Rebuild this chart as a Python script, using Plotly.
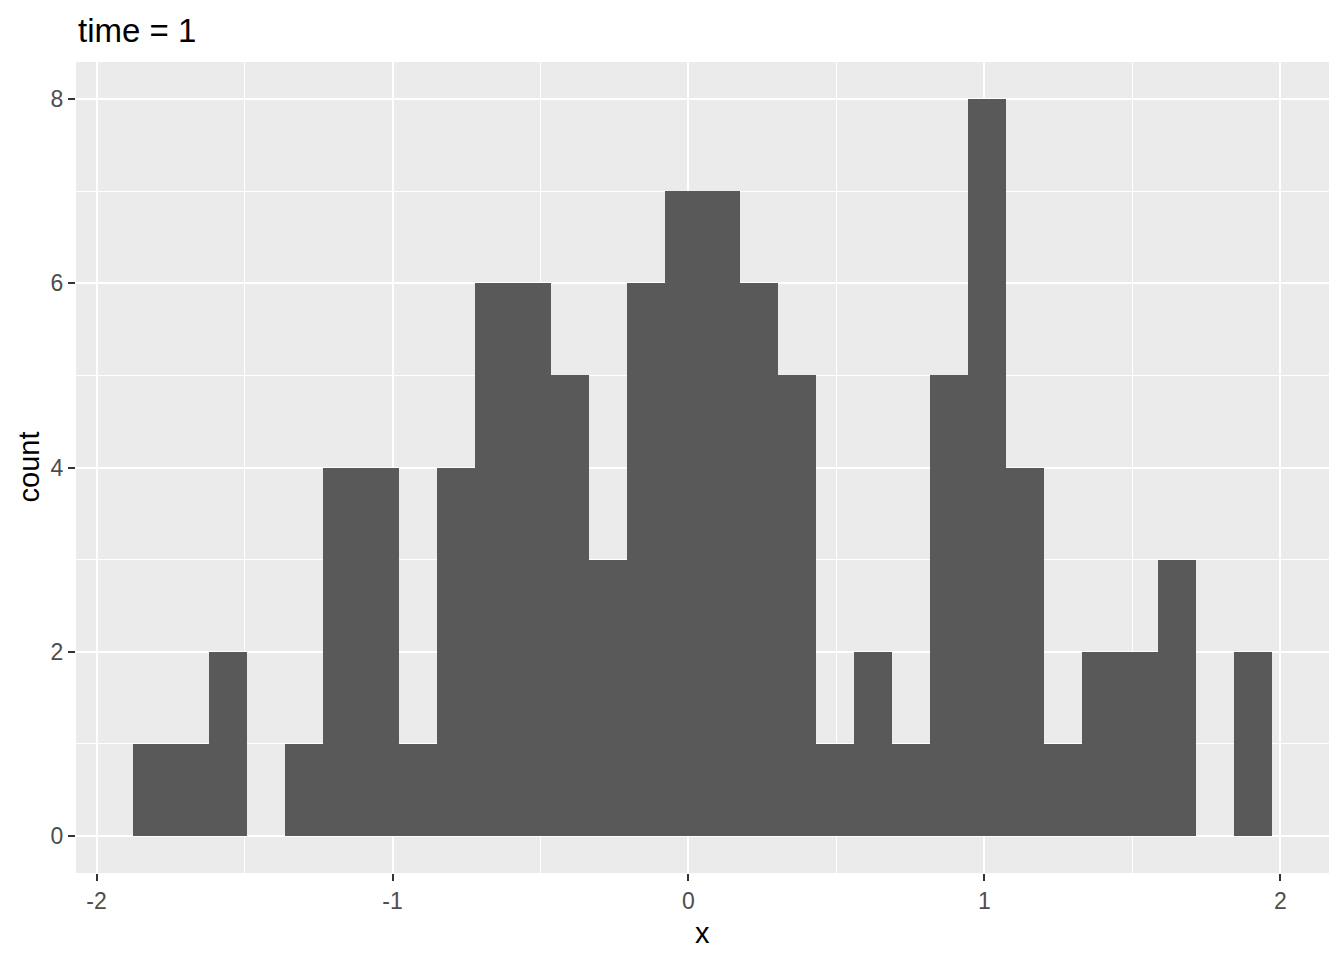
import plotly.graph_objects as go

# Histogram data (30 bins)
bin_start = -1.877
bin_width = 0.1283
counts = [1, 1, 2, 0, 1, 4, 4, 1, 4, 6, 6, 5, 3, 6, 7, 7, 6, 5, 1, 2, 1, 5, 8, 4, 1, 2, 2, 3, 0, 2]
x_ticks = [-2, -1, 0, 1, 2]
x_minor = [-1.5, -0.5, 0.5, 1.5]
y_ticks = [0, 2, 4, 6, 8]
y_minor = [1, 3, 5, 7]
title_text = "time = 1"
x_title = "x"
y_title = "count"

centers = [bin_start + bin_width * (i + 0.5) for i in range(len(counts))]
x_lo = bin_start
x_hi = bin_start + bin_width * len(counts)
span = x_hi - x_lo
x_range = [x_lo - 0.05 * span, x_hi + 0.05 * span]
y_range = [-0.05 * max(counts), max(counts) * 1.05]

fig = go.Figure(go.Bar(
    x=centers, y=counts, width=bin_width,
    marker=dict(color="#595959", line=dict(width=0)),
    hoverinfo="x+y",
))

font = "Arial, Liberation Sans, sans-serif"
# page body adds an 8px offset; figure sized to fit the 1344x960 window
fig.update_layout(
    width=1336, height=952,
    margin=dict(l=68, r=15, t=54, b=87, autoexpand=False),
    paper_bgcolor="white", plot_bgcolor="#EBEBEB",
    bargap=0, showlegend=False,
    font=dict(family=font, color="black"),
    annotations=[
        dict(text=title_text, xref="paper", yref="paper", x=0, y=1,
             xanchor="left", yanchor="middle", yshift=32, showarrow=False,
             font=dict(size=33, color="black", family=font)),
        dict(text=x_title, xref="paper", yref="paper", x=0.5, y=0,
             xanchor="center", yanchor="middle", yshift=-60, showarrow=False,
             font=dict(size=29, color="black", family=font)),
        dict(text=y_title, xref="paper", yref="paper", x=0, y=0.5, textangle=-90,
             xanchor="center", yanchor="middle", xshift=-48, showarrow=False,
             font=dict(size=29, color="black", family=font)),
    ],
)
fig.update_xaxes(
    range=x_range, tickvals=x_ticks, ticktext=[str(v) for v in x_ticks],
    showgrid=True, gridcolor="white", gridwidth=2, zeroline=False,
    ticks="outside", ticklen=7, tickwidth=2, tickcolor="#333333",
    tickfont=dict(size=23, color="#4D4D4D", family=font),
    minor=dict(tickvals=x_minor, showgrid=True, gridcolor="white", gridwidth=1, ticks=""),
    showline=False, automargin=False,
)
fig.update_yaxes(
    range=y_range, tickvals=y_ticks, ticktext=[str(v) for v in y_ticks],
    showgrid=True, gridcolor="white", gridwidth=2, zeroline=False,
    ticks="outside", ticklen=7, tickwidth=2, tickcolor="#333333",
    tickfont=dict(size=23, color="#4D4D4D", family=font),
    minor=dict(tickvals=y_minor, showgrid=True, gridcolor="white", gridwidth=1, ticks=""),
    showline=False, automargin=False,
)
fig.write_html("out.html")
